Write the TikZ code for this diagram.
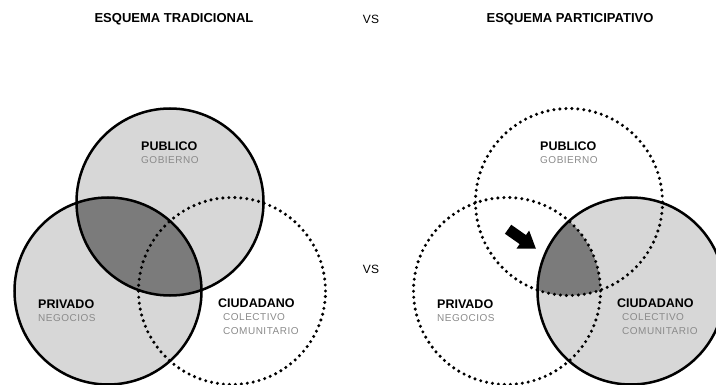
\documentclass[tikz,border=0pt]{standalone}
\usepackage{fontspec}
\setmainfont{Liberation Sans}
\newfontfamily\subfont[LetterSpace=5]{Liberation Sans}

\definecolor{lightfill}{HTML}{D7D7D7}
\definecolor{darkfill}{HTML}{7B7B7B}
\definecolor{subgray}{HTML}{8A8A8A}

\tikzset{
  solidring/.style={draw=black, line width=2.5pt},
  dotring/.style={draw=black, line width=3.4pt, line cap=round, dash pattern=on 0pt off 6pt},
  headline/.style={inner sep=0pt, font=\bfseries\fontsize{13}{13}\selectfont},
  versus/.style={inner sep=0pt, font=\fontsize{12}{12}\selectfont},
  mainlabel/.style={anchor=west, inner sep=0pt, font=\bfseries\fontsize{12.5}{12.5}\selectfont},
  sublabel/.style={anchor=west, inner sep=0pt, text=subgray, font=\subfont\fontsize{10}{10}\selectfont},
}

\begin{document}
\begin{tikzpicture}[x=1pt,y=-1pt]
\useasboundingbox (0,0) rectangle (716,385);
\clip (0,0) rectangle (716,385);
\def\R{93.5pt}

% circle centres
\coordinate (Lpub)  at (170,202);
\coordinate (Lpriv) at (108,291);
\coordinate (Lciu)  at (232,291);
\coordinate (Rpub)  at (569,202);
\coordinate (Rpriv) at (507,291);
\coordinate (Rciu)  at (631,291);

% traditional scheme: public and private sectors
\fill[lightfill] (Lpub) circle (\R);
\fill[lightfill] (Lpriv) circle (\R);
\begin{scope}
  \clip (Lpub) circle (\R);
  \fill[darkfill] (Lpriv) circle (\R);
\end{scope}
\path[solidring] (Lpub) circle (\R);
\path[solidring] (Lpriv) circle (\R);
\path[dotring] (Lciu) circle (\R);

% participative scheme: citizens at the centre
\fill[lightfill] (Rciu) circle (\R);
\begin{scope}
  \clip (Rpub) circle (\R);
  \clip (Rpriv) circle (\R);
  \fill[darkfill] (Rciu) circle (\R);
\end{scope}
\path[solidring] (Rciu) circle (\R);
\path[dotring] (Rpub) circle (\R);
\path[dotring] (Rpriv) circle (\R);

% block arrow pointing at the shared zone
\begin{scope}[shift={(522,239)}, rotate=-35]
  \fill[black] (-17,-5.5) -- (1,-5.5) -- (1,-11) -- (17,0) -- (1,11) -- (1,5.5) -- (-17,5.5) -- cycle;
\end{scope}

% headings
\node[headline] (tradTitle) at (174,19) {ESQUEMA TRADICIONAL};
\node[versus]   (vsTop)     at (371,19) {VS};
\node[headline] (partTitle) at (570,19) {ESQUEMA PARTICIPATIVO};
\node[versus]   (vsMid)     at (371,269) {VS};

% labels, traditional
\node[mainlabel] (LpubA)  at (141,146) {PUBLICO};
\node[sublabel]  (LpubB)  at (141,160) {GOBIERNO};
\node[mainlabel] (LprivA) at (38,304)  {PRIVADO};
\node[sublabel]  (LprivB) at (38,318)  {NEGOCIOS};
\node[mainlabel] (LciuA)  at (218,303) {CIUDADANO};
\node[sublabel]  (LciuB)  at (223,317) {COLECTIVO};
\node[sublabel]  (LciuC)  at (223,331) {COMUNITARIO};

% labels, participative
\node[mainlabel] (RpubA)  at (540,146) {PUBLICO};
\node[sublabel]  (RpubB)  at (540,160) {GOBIERNO};
\node[mainlabel] (RprivA) at (437,304) {PRIVADO};
\node[sublabel]  (RprivB) at (437,318) {NEGOCIOS};
\node[mainlabel] (RciuA)  at (617,303) {CIUDADANO};
\node[sublabel]  (RciuB)  at (622,317) {COLECTIVO};
\node[sublabel]  (RciuC)  at (622,331) {COMUNITARIO};
\end{tikzpicture}
\end{document}
